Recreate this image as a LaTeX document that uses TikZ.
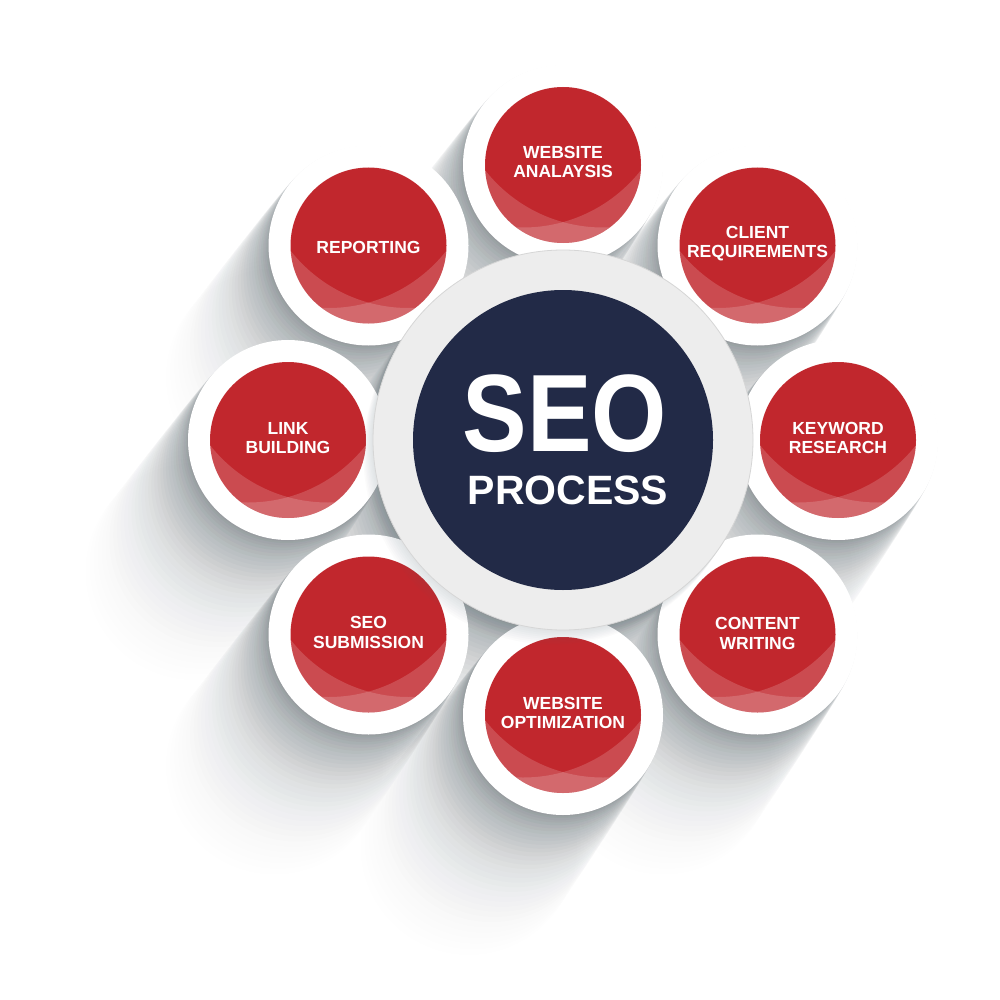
\documentclass[tikz,border=0pt]{standalone}
\usepackage{fontspec}
\setmainfont{Liberation Sans}
\definecolor{seored}{HTML}{C1272D}
\definecolor{seonavy}{HTML}{222A47}
\definecolor{ringgray}{HTML}{EDEDED}
\definecolor{ringline}{HTML}{D6D6D6}
\definecolor{shadowc}{HTML}{6A767C}
\tikzset{
  whitedisk/.style={circle, fill=white, minimum size=200pt, inner sep=0pt},
  reddisk/.style={circle, fill=seored, minimum size=156pt, inner sep=0pt},
  satlabel/.style={text=white, font=\bfseries\fontsize{17.5}{19.5}\selectfont, align=center, inner sep=0pt},
  lightveil/.style={white, opacity=0.17, even odd rule},
}
\newcommand{\seosat}[5]{%
  \node[whitedisk] (#1w) at (#2,#3) {};
  \node[reddisk] (#1r) at (#2,#3) {};
  \begin{scope}[shift={(#2,#3)}]
    \clip (0,0) circle[radius=78];
    \fill[lightveil] (0,0) circle[radius=78] (40,-87.5) circle[radius=150];
    \fill[lightveil] (0,0) circle[radius=78] (-40,-87.5) circle[radius=150];
  \end{scope}
  \node[satlabel] (#1) at (#2,#3+#5) {#4};
}
\begin{document}
\begin{tikzpicture}[x=1pt,y=-1pt]
\useasboundingbox (0,0) rectangle (1000,1000);
\fill[white] (0,0) rectangle (1000,1000);
% long soft shadow: copies move away and get fainter
\foreach \k in {1,...,40}{
  \pgfmathsetmacro{\f}{(\k/40)^1.4}
  \pgfmathsetmacro{\o}{0.068*(1-\k/41)^2}
  \fill[shadowc, opacity=\o] \foreach \p/\q/\r in {563/165/100, 757.5/245.5/100, 838/440/100, 757.5/634.5/100, 563/715/100, 368.5/634.5/100, 288/440/100, 368.5/245.5/100, 563/440/190}{ (\p-118*\f,\q+165*\f) circle[radius=\r+10*\k/40] };
}
% satellites
\seosat{wa}{563}{165}{WEBSITE\\ANALAYSIS}{-3}
\seosat{cr}{757.5}{245.5}{CLIENT\\REQUIREMENTS}{-2}
\seosat{kr}{838}{440}{KEYWORD\\RESEARCH}{-2}
\seosat{cw}{757.5}{634.5}{CONTENT\\WRITING}{-1}
\seosat{wo}{563}{715}{WEBSITE\\OPTIMIZATION}{-2}
\seosat{ss}{368.5}{634.5}{SEO\\SUBMISSION}{-2}
\seosat{lb}{288}{440}{LINK\\BUILDING}{-2}
\seosat{rp}{368.5}{245.5}{REPORTING}{2}
% ring shadow on satellites
\foreach \k in {1,...,8}{
  \fill[shadowc, opacity=0.025] (563-1.2*\k,440+1.8*\k) circle[radius=190];
}
% centre
\node[circle, fill=ringgray, draw=ringline, line width=0.8pt, minimum size=380pt, inner sep=0pt] (ring) at (563,440) {};
\node[circle, fill=seonavy, minimum size=300pt, inner sep=0pt] (core) at (563,440) {};
\node[anchor=base, text=white, inner sep=0pt, font=\bfseries\fontsize{110}{110}\selectfont] (seo) at (565,451) {\scalebox{0.88}[1]{SEO}};
\node[anchor=base, text=white, inner sep=0pt, font=\bfseries\fontsize{41}{41}\selectfont] (process) at (568,504) {PROCESS};
\end{tikzpicture}
\end{document}
